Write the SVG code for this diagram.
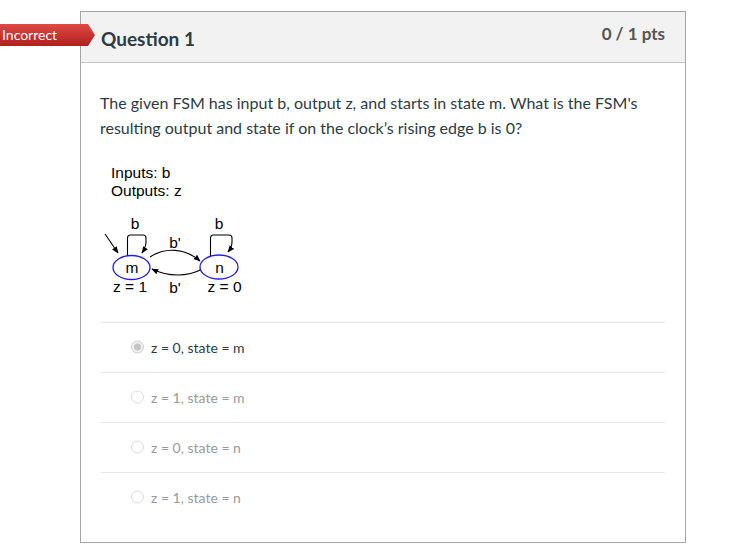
<svg xmlns="http://www.w3.org/2000/svg" width="735" height="554" viewBox="0 0 735 554">
<defs>
<linearGradient id="red" x1="0" y1="0" x2="0" y2="1">
<stop offset="0" stop-color="#e04a45"/>
<stop offset="1" stop-color="#b0201c"/>
</linearGradient>
<marker id="ah" viewBox="0 0 10 10" refX="9" refY="5" markerWidth="7" markerHeight="7" orient="auto" markerUnits="userSpaceOnUse">
<path d="M0,1 L10,5 L0,9 z" fill="#000"/>
</marker>
<style>
.lato{font-family:Lato,"Open Sans","Liberation Sans",sans-serif}
.ar{font-family:"Liberation Sans",Arial,sans-serif;font-size:15.5px;fill:#000}
.body{font-size:16px;fill:#2d3b45}
.opt{font-size:14px;fill:#999}
.sep{stroke:#e6e6e6;stroke-width:1}
.st{fill:#fff;stroke:#1f1fe6;stroke-width:1.3}
.edge{fill:none;stroke:#000;stroke-width:1.1}
.radio{fill:#fff;stroke:#dcdcdc;stroke-width:1}
</style>
</defs>
<rect width="735" height="554" fill="#fff"/>
<!-- card -->
<rect x="80.5" y="11.5" width="605" height="531" fill="#fff" stroke="#a5a5a5"/>
<rect x="81" y="12" width="604" height="50" fill="#f2f2f2"/>
<line x1="81" y1="62.5" x2="685" y2="62.5" stroke="#c7c7c7"/>
<text class="lato" x="101" y="45.5" font-size="19" font-weight="bold" fill="#2d3b45">Question 1</text>
<text class="lato" x="665" y="40" font-size="17" font-weight="bold" fill="#555" text-anchor="end">0 / 1 pts</text>
<!-- badge -->
<g id="badge">
<path d="M0,24 L88,24 L95,35 L88,46 L0,46 z" fill="url(#red)"/>
<text class="lato" x="2" y="40" font-size="14" fill="#fff">Incorrect</text>
</g>
<!-- question text -->
<text class="lato body" x="100" y="109">The given FSM has input b, output z, and starts in state m. What is the FSM's</text>
<text class="lato body" x="100" y="134">resulting output and state if on the clock’s rising edge b is 0?</text>
<!-- FSM -->
<text class="ar" x="111" y="178">Inputs: b</text>
<text class="ar" x="111" y="196">Outputs: z</text>
<g id="connectors">
<path class="edge" d="M105,234 L118,253" marker-end="url(#ah)"/>
<path class="edge" d="M127.5,256 L127.5,238 Q127.5,235 130.5,235 L143,235 Q146,235 146,238 L146,242 Q146,247 142,253" marker-end="url(#ah)"/>
<path class="edge" d="M210.5,256 L210.5,238 Q210.5,235 213.5,235 L229,235 Q232,235 232,238 L232,242 Q232,247 228,252" marker-end="url(#ah)"/>
<path class="edge" d="M150,257 C165,247 185,248 200,261" marker-end="url(#ah)"/>
<path class="edge" d="M202,269 C188,277 168,277 152,269" marker-end="url(#ah)"/>
<text class="ar" x="135" y="229" text-anchor="middle">b</text>
<text class="ar" x="219" y="229" text-anchor="middle">b</text>
<text class="ar" x="175" y="248" text-anchor="middle">b'</text>
<text class="ar" x="175" y="293" text-anchor="middle">b'</text>
</g>
<g id="m">
<ellipse class="st" cx="131.5" cy="267.5" rx="18.5" ry="12"/>
<text class="ar" x="132" y="273" text-anchor="middle" font-size="16">m</text>
<text class="ar" x="130" y="292" text-anchor="middle">z = 1</text>
</g>
<g id="n">
<ellipse class="st" cx="219" cy="267" rx="19" ry="12"/>
<text class="ar" x="219.5" y="272.5" text-anchor="middle" font-size="16">n</text>
<text class="ar" x="224.5" y="292" text-anchor="middle">z = 0</text>
</g>
<!-- options -->
<line class="sep" x1="101" y1="322.5" x2="665" y2="322.5" stroke="#d6d6d6"/>
<line class="sep" x1="101" y1="372.5" x2="665" y2="372.5"/>
<line class="sep" x1="101" y1="422.5" x2="665" y2="422.5"/>
<line class="sep" x1="101" y1="472.5" x2="665" y2="472.5"/>
<circle cx="137.5" cy="347" r="6" fill="#f0f0f0" stroke="#d0d0d0"/>
<circle cx="137.5" cy="347" r="3.5" fill="#c4c4c4"/>
<text class="lato" x="151" y="353" font-size="14" fill="#2d3b45">z = 0, state = m</text>
<circle class="radio" cx="137.5" cy="397" r="6"/>
<text class="lato opt" x="151" y="403">z = 1, state = m</text>
<circle class="radio" cx="137.5" cy="447" r="6"/>
<text class="lato opt" x="151" y="453">z = 0, state = n</text>
<circle class="radio" cx="137.5" cy="497" r="6"/>
<text class="lato opt" x="151" y="503">z = 1, state = n</text>
</svg>
